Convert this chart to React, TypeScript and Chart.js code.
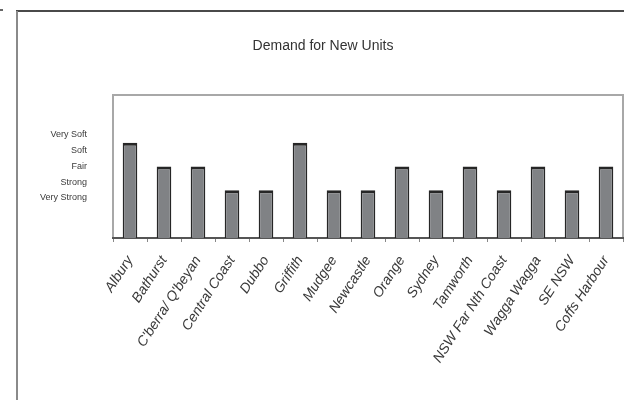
import React, { useEffect, useRef } from "react";
import { Chart, registerables } from "chart.js";

Chart.register(...registerables);

// Regions and their demand rating for new units
const regions = [
  "Albury",
  "Bathurst",
  "C'berra/ Q'beyan",
  "Central Coast",
  "Dubbo",
  "Griffith",
  "Mudgee",
  "Newcastle",
  "Orange",
  "Sydney",
  "Tamworth",
  "NSW Far Nth Coast",
  "Wagga Wagga",
  "SE NSW",
  "Coffs Harbour",
];
const demand = [4, 3, 3, 2, 2, 4, 2, 2, 3, 2, 3, 2, 3, 2, 3];

// Rating labels shown along the left side, bottom to top
const ratingValues = [1, 2, 3, 4, 5];
const ratingLabels = ["Very Strong", "Strong", "Fair", "Soft", "Very Soft"];

const chartTitle = "Demand for New Units";

// Draws the page frame, the plot border and the title
const framePlugin = {
  id: "frame",
  beforeDraw(chart: any) {
    const { ctx, chartArea } = chart;
    ctx.save();
    ctx.fillStyle = "#ffffff";
    ctx.fillRect(0, 0, chart.width, chart.height);
    // outer frame
    ctx.strokeStyle = "#4a4a4a";
    ctx.lineWidth = 2;
    ctx.beginPath();
    ctx.moveTo(16, 11);
    ctx.lineTo(624, 11);
    ctx.stroke();
    ctx.strokeStyle = "#8a8a8a";
    ctx.beginPath();
    ctx.moveTo(17, 11);
    ctx.lineTo(17, 400);
    ctx.stroke();
    ctx.strokeStyle = "#666";
    ctx.beginPath();
    ctx.moveTo(0, 10);
    ctx.lineTo(3, 10);
    ctx.stroke();
    // plot area border
    ctx.strokeStyle = "#a8a8a8";
    ctx.lineWidth = 2;
    ctx.strokeRect(chartArea.left, chartArea.top, chartArea.right - chartArea.left, chartArea.bottom - chartArea.top);
    // title
    ctx.fillStyle = "#333";
    ctx.font = '14px "Liberation Sans", Arial, sans-serif';
    ctx.textAlign = "center";
    ctx.textBaseline = "middle";
    ctx.fillText(chartTitle, 323, 46);
    ctx.restore();
  },
};

export default function App() {
  const canvasRef = useRef<HTMLCanvasElement | null>(null);

  useEffect(() => {
    if (!canvasRef.current) return;
    const chart = new Chart(canvasRef.current, {
      type: "bar",
      data: {
        labels: regions,
        datasets: [
          {
            data: demand,
            backgroundColor: "#808285",
            borderColor: "#262626",
            borderWidth: { left: 1.5, right: 1.5, top: 3, bottom: 0 },
            borderSkipped: "bottom",
            categoryPercentage: 1,
            barPercentage: 0.43,
            yAxisID: "y",
          },
        ],
      },
      options: {
        responsive: false,
        animation: false,
        layout: { padding: { top: 95, right: 1, left: 0, bottom: 0 } },
        plugins: {
          legend: { display: false },
          title: { display: false },
          tooltip: { enabled: false },
        },
        scales: {
          x: {
            offset: true,
            grid: {
              offset: true,
              drawOnChartArea: false,
              drawTicks: true,
              tickLength: 4,
              color: "#888",
            },
            border: { display: true, color: "#555", width: 2 },
            ticks: {
              autoSkip: false,
              minRotation: 57,
              maxRotation: 57,
              padding: 11,
              color: "#3a3a3a",
              font: { family: '"Liberation Sans", Arial, sans-serif', size: 14, style: "italic" },
            },
            afterFit(scale: any) {
              scale.height = 162;
              scale.paddingLeft = 0;
              scale.paddingRight = 0;
            },
          },
          y: {
            display: false,
            min: 0,
            max: 6,
          },
          rating: {
            type: "linear",
            position: "left",
            min: -1.54,
            max: 7.54,
            grid: { display: false, drawTicks: false },
            border: { display: false },
            afterBuildTicks(scale: any) {
              scale.ticks = ratingValues.map((v) => ({ value: v }));
            },
            ticks: {
              padding: 26,
              color: "#3a3a3a",
              font: { family: '"Liberation Sans", Arial, sans-serif', size: 9 },
              callback: (v: any) => {
                const i = ratingValues.indexOf(Number(v));
                return i >= 0 ? ratingLabels[i] : "";
              },
            },
            afterFit(scale: any) {
              scale.width = 113;
            },
          },
        },
      } as any,
      plugins: [framePlugin],
    });
    return () => chart.destroy();
  }, []);

  return (
    <div style={{ position: "absolute", left: 0, top: 0, width: 624, height: 400 }}>
      <canvas ref={canvasRef} width={624} height={400} />
    </div>
  );
}
